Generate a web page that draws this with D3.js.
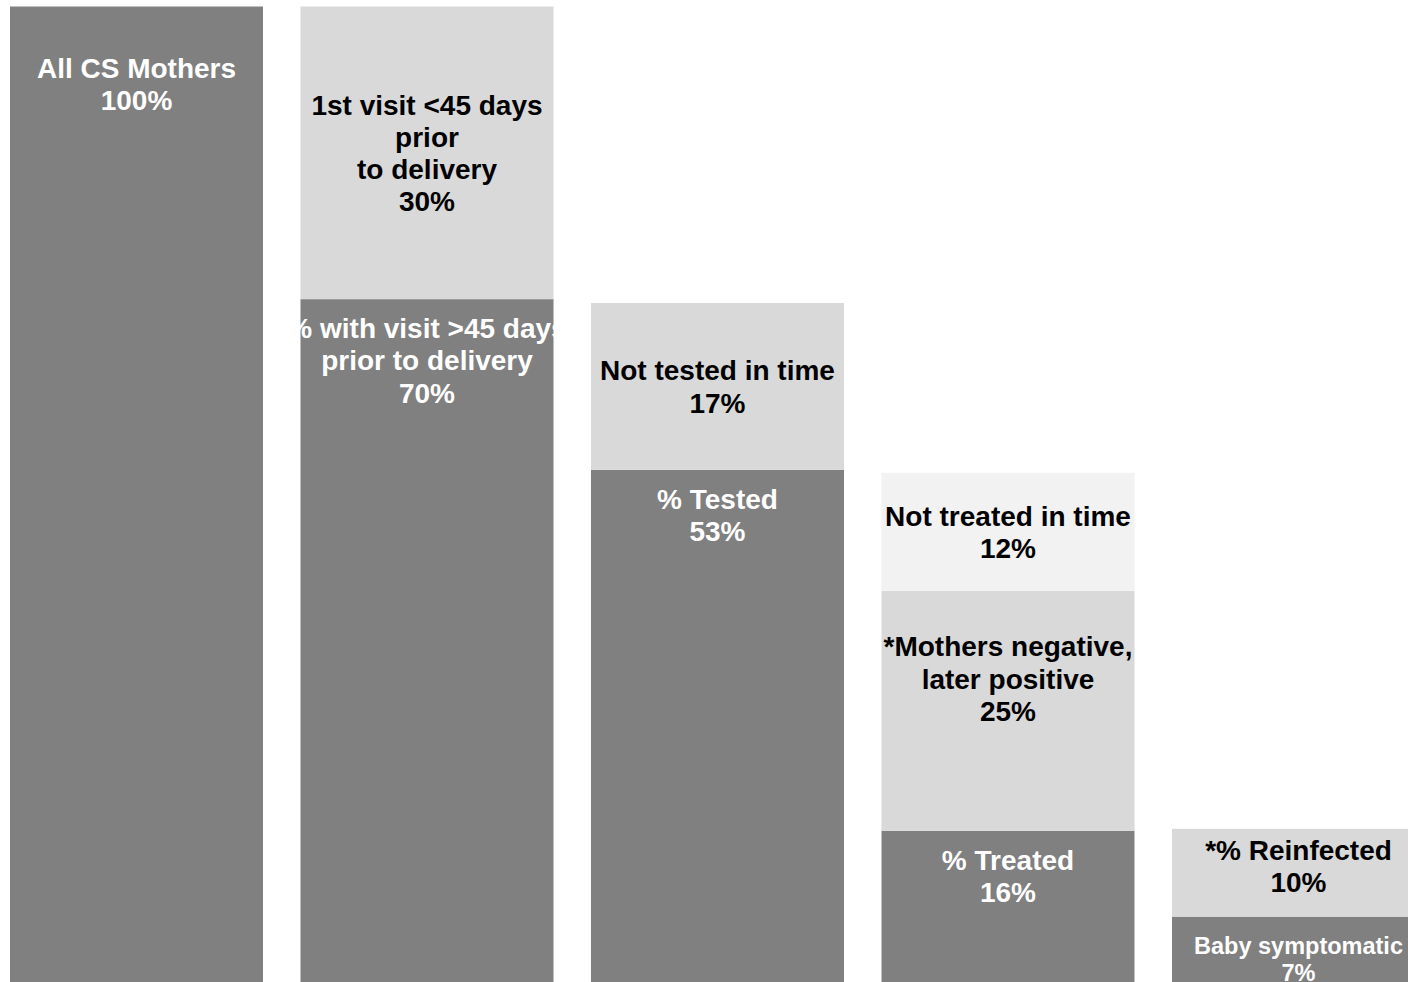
<!DOCTYPE html>
<html>
<head>
<meta charset="utf-8">
<script src="https://cdn.jsdelivr.net/npm/d3@7"></script>
<style>
  html, body { margin: 0; padding: 0; overflow: hidden; background: #fff; }
  svg { display: block; }
  .seg-label { font-family: "Liberation Sans", Arial, sans-serif; font-weight: bold; }
</style>
</head>
<body>
<div class="chart"></div>
<script>
// bars (categories)
const barNames = ["All mothers", "Visit timing", "Testing", "Treatment", "Outcome"];

// stacked segments, bottom to top inside each bar
const segBar   = [0, 1, 1, 2, 2, 3, 3, 3, 4, 4];
const segLevel = [0, 0, 1, 0, 1, 0, 1, 2, 0, 1];   // 0 = bottom, 1 = middle, 2 = top
const segValue = [100, 70, 30, 52.5, 17.1, 15.5, 24.6, 12.1, 6.7, 9.0];
const segLabel = [
  ["", "All CS Mothers", "100%"],
  ["% with visit >45 days", "prior to delivery", "70%"],
  ["1st visit <45 days", "prior", "to delivery", "30%"],
  ["% Tested", "53%"],
  ["Not tested in time", "17%"],
  ["% Treated", "16%"],
  ["*Mothers negative,", "later positive", "25%", "", ""],
  ["Not treated in time", "12%"],
  ["Baby symptomatic", "7%"],
  ["*% Reinfected", "10%"]
];

const levelColors = ["#808080", "#d9d9d9", "#f2f2f2"];
const levelText   = ["#ffffff", "#000000", "#000000"];

// build stacked rows
const running = barNames.map(() => 0);
const segments = segValue.map((v, i) => {
  const b = segBar[i];
  const y0 = running[b];
  running[b] += v;
  return {bar: barNames[b], barIdx: b, level: segLevel[i], y0: y0, y1: y0 + v, lines: segLabel[i]};
});

const svg_width = 1440, svg_height = 982;
const svg = d3.select('.chart').append('svg')
  .attr('width', svg_width).attr('height', svg_height);

const xScale = d3.scaleBand().domain(barNames)
  .range([10, 1425])
  .paddingInner(37.5 / 290.5)
  .paddingOuter(0);

const yScale = d3.scaleLinear().domain([0, 100]).range([982, 6.5]);

// draw segments
svg.selectAll('.seg')
  .data(segments)
  .enter()
  .append('rect')
  .attr('class', 'seg')
  .attr('x', d => xScale(d.bar))
  .attr('y', d => yScale(d.y1))
  .attr('width', xScale.bandwidth())
  .attr('height', d => yScale(d.y0) - yScale(d.y1))
  .style('fill', d => levelColors[d.level]);

// labels: bottom segments top-aligned, others centred in the segment
svg.selectAll('.seg-label')
  .data(segments)
  .enter()
  .append('text')
  .attr('class', 'seg-label')
  .attr('text-anchor', 'middle')
  .style('fill', d => levelText[d.level])
  .each(function(d) {
    const small = d.barIdx === 4 && d.level === 0;
    const fs = small ? 23.5 : 28;
    const lh = small ? 27 : fs * 1.15;
    const top = yScale(d.y1), bottom = yScale(d.y0);
    const n = d.lines.length;
    let firstCenter;
    if (d.level === 0) {
      firstCenter = top + 29;
    } else {
      firstCenter = (top + bottom) / 2 - (n - 1) / 2 * lh;
      // short last segment: label sits a little higher
      if (d.barIdx === 4) firstCenter -= 7;
    }
    const cx = xScale(d.bar) + xScale.bandwidth() / 2;
    const t = d3.select(this).style('font-size', fs + 'px');
    d.lines.forEach((line, i) => {
      if (!line) return;
      t.append('tspan')
        .attr('x', cx)
        .attr('y', firstCenter + i * lh + fs * 0.36)
        .text(line);
    });
  });
</script>
</body>
</html>
